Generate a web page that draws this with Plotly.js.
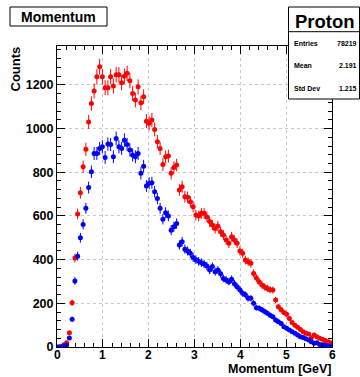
<!DOCTYPE html>
<html><head><meta charset="utf-8">
<script src="https://cdn.plot.ly/plotly-3.0.1.min.js"></script>
<style>html,body{margin:0;padding:0;background:#fff}#c{width:360px;height:377px}</style>
</head><body><div id="c"></div>
<script>
// bin centres (GeV), 100 bins of 0.06 GeV from 0 to 6
const binCenters = [0.03,0.09,0.15,0.21,0.27,0.33,0.39,0.45,0.51,0.57,0.63,0.69,0.75,0.81,0.87,0.93,0.99,1.05,1.11,1.17,1.23,1.29,1.35,1.41,1.47,1.53,1.59,1.65,1.71,1.77,1.83,1.89,1.95,2.01,2.07,2.13,2.19,2.25,2.31,2.37,2.43,2.49,2.55,2.61,2.67,2.73,2.79,2.85,2.91,2.97,3.03,3.09,3.15,3.21,3.27,3.33,3.39,3.45,3.51,3.57,3.63,3.69,3.75,3.81,3.87,3.93,3.99,4.05,4.11,4.17,4.23,4.29,4.35,4.41,4.47,4.53,4.59,4.65,4.71,4.77,4.83,4.89,4.95,5.01,5.07,5.13,5.19,5.25,5.31,5.37,5.43,5.49,5.55,5.61,5.67,5.73,5.79,5.85,5.91,5.97];
const redCounts = [0,2,10,20,65,203,407,609,706,825,905,1030,1115,1172,1237,1283,1237,1187,1187,1237,1195,1246,1246,1210,1240,1253,1219,1161,1131,1191,1118,1146,1034,1024,1039,996,940,909,835,871,874,795,822,833,719,734,688,685,665,642,604,600,612,612,595,574,558,542,554,528,513,490,475,505,490,475,440,429,398,390,383,337,316,299,284,275,268,262,261,215,184,170,158,150,130,112,100,90,80,70,63,60,42,55,47,40,35,30,25,20];
const blueCounts = [0,1,5,9,41,127,302,416,500,561,635,730,802,886,886,909,917,868,929,927,871,955,917,909,947,927,902,879,871,886,795,828,737,750,752,711,680,635,585,615,600,535,550,565,467,482,448,440,429,410,400,392,386,380,371,352,368,345,352,335,314,307,299,310,290,276,262,246,239,223,223,200,180,177,170,162,155,145,139,124,116,108,93,86,78,70,63,55,47,44,38,32,24,17,20,12,10,8,6,5];
const xTickVals = [0,1,2,3,4,5,6];
const yTickVals = [0,200,400,600,800,1000,1200];
const statLabels = ["Entries","Mean","Std Dev"];
const statValues = ["78219","2.191","1.215"];

// layout geometry (pixels)
const W=360,H=377, L=57, R=332, T=46, B=347;
const px = x => (x-L)/(R-L);
const py = y => (B-y)/(B-T);

function trace(y,color){
  return {x:binCenters,y:y,type:'scatter',mode:'markers',
    marker:{color:color,size:5,symbol:'circle'},
    error_y:{type:'sqrt',color:color,thickness:1,width:0},
    error_x:{type:'constant',value:0.03,color:color,thickness:1,width:0},
    hoverinfo:'skip',showlegend:false,cliponaxis:true};
}
const fontB = {family:'Liberation Sans, Arial, sans-serif',size:13,color:'#000',weight:'bold'};
const axBase = {ticks:'inside',ticklen:8,tickwidth:1,tickcolor:'#000',showline:true,linecolor:'#000',linewidth:1,
  mirror:'allticks',showgrid:true,gridcolor:'#c8c8c8',griddash:'dot',gridwidth:1,zeroline:false,
  tickfont:{...fontB,size:12.5},fixedrange:true};

function ann(text,x,y,xa,ya,size,extra){
  return Object.assign({text:text,x:x,y:y,xref:'paper',yref:'paper',xanchor:xa,yanchor:ya,showarrow:false,
    borderpad:0,font:{...fontB,size:size}},extra||{});
}
const anns = [
  ann('Momentum',px(58),py(17),'center','middle',14),
  ann('Proton',px(325),py(21),'center','middle',18.5),
  ann('Counts',px(15),py(46),'center','top',13,{textangle:-90}),
  ann('Momentum [GeV]',1,py(377),'right','bottom',12.5)
];
// x tick labels placed on the x data scale
xTickVals.forEach(v=>{
  anns.push(ann(String(v),v,py(354.5),'center','middle',12,{xref:'x'}));
});
const rowsY=[43.5,65.5,88];
statLabels.forEach((s,i)=>{
  anns.push(ann(s,px(292.5),py(rowsY[i]),'left','middle',7));
  anns.push(ann(statValues[i],px(357.5),py(rowsY[i]),'right','middle',7));
});

const shapes = [
  {type:'rect',xref:'paper',yref:'paper',x0:px(10),x1:px(107),y0:py(26),y1:py(7),line:{color:'#000',width:1},fillcolor:'#fff',layer:'above'},
  {type:'rect',xref:'paper',yref:'paper',x0:px(288.5),x1:px(359.5),y0:py(99),y1:py(7),line:{color:'#000',width:1},fillcolor:'#fff',layer:'above'},
  {type:'line',xref:'paper',yref:'paper',x0:px(288.5),x1:px(359.5),y0:py(31.7),y1:py(31.7),line:{color:'#000',width:1},layer:'above'}
];

const layout = {
  width:W,height:H,margin:{l:L,r:W-R,t:T,b:H-B,pad:0},
  paper_bgcolor:'#fff',plot_bgcolor:'#fff',showlegend:false,
  xaxis:{...axBase,range:[0,6],tickvals:xTickVals,showticklabels:false,
    minor:{dtick:0.2,ticklen:4,ticks:'inside',tickcolor:'#000',showgrid:false}},
  yaxis:{...axBase,range:[0,1378],tickvals:yTickVals,ticktext:yTickVals.map(String),
    minor:{dtick:40,ticklen:4,ticks:'inside',tickcolor:'#000',showgrid:false}},
  annotations:anns,shapes:shapes
};
Plotly.newPlot('c',[trace(redCounts,'#ff0000'),trace(blueCounts,'#0000ff')],layout,{staticPlot:true,displayModeBar:false});
</script></body></html>
